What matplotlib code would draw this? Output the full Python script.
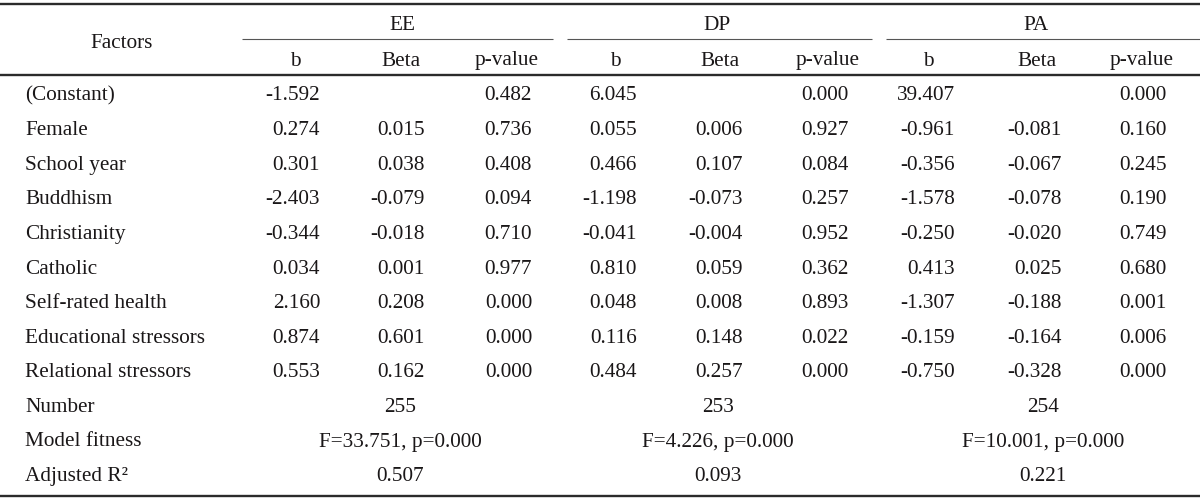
import matplotlib
matplotlib.use("Agg")
import matplotlib.pyplot as plt

groups = ["EE", "DP", "PA"]
subheads = ["b", "Beta", "p-value"]
factors = ["(Constant)", "Female", "School year", "Buddhism", "Christianity",
           "Catholic", "Self-rated health", "Educational stressors", "Relational stressors"]
ee_b = ["-1.592", "0.274", "0.301", "-2.403", "-0.344", "0.034", "2.160", "0.874", "0.553"]
ee_beta = ["", "0.015", "0.038", "-0.079", "-0.018", "0.001", "0.208", "0.601", "0.162"]
ee_p = ["0.482", "0.736", "0.408", "0.094", "0.710", "0.977", "0.000", "0.000", "0.000"]
dp_b = ["6.045", "0.055", "0.466", "-1.198", "-0.041", "0.810", "0.048", "0.116", "0.484"]
dp_beta = ["", "0.006", "0.107", "-0.073", "-0.004", "0.059", "0.008", "0.148", "0.257"]
dp_p = ["0.000", "0.927", "0.084", "0.257", "0.952", "0.362", "0.893", "0.022", "0.000"]
pa_b = ["39.407", "-0.961", "-0.356", "-1.578", "-0.250", "0.413", "-1.307", "-0.159", "-0.750"]
pa_beta = ["", "-0.081", "-0.067", "-0.078", "-0.020", "0.025", "-0.188", "-0.164", "-0.328"]
pa_p = ["0.000", "0.160", "0.245", "0.190", "0.749", "0.680", "0.001", "0.006", "0.000"]
summary_labels = ["Number", "Model fitness", "Adjusted R\u00b2"]
number = ["255", "253", "254"]
fitness = ["F=33.751, p=0.000", "F=4.226, p=0.000", "F=10.001, p=0.000"]
adj_r2 = ["0.507", "0.093", "0.221"]

# layout (pixel coordinates)
W, H = 1200, 500
FONT = "Liberation Serif"
FS = 15.3
TXT = "#1a1718"
LINE = "#2b2b2b"
BASE = 7.5  # offset from visual centre of digits to baseline
label_x = 25
factors_x, factors_y = 122, 40
group_y, sub_y = 23, 58
group_cx = [402, 717, 1036]
group_lines = [(242, 553), (567, 872), (886, 1200)]
sub_cx = [[295, 401, 507], [615, 720, 828], [928, 1037, 1142]]
val_right = [[320, 425, 532], [637, 743, 849], [955, 1062, 1167]]
summary_cx = [400, 718, 1043]
row0_y, row_h = 93, 34.6

fig = plt.figure(figsize=(12, 5), dpi=100)
ax = fig.add_axes([0, 0, 1, 1])
ax.set_xlim(0, W)
ax.set_ylim(H, 0)
ax.axis("off")

def t(x, y, s, ha="center"):
    ax.text(x, y + BASE, s, ha=ha, va="baseline", fontsize=FS, family=FONT, color=TXT)

# rules
ax.plot([0, W], [4, 4], color=LINE, lw=1.7, solid_capstyle="butt")
ax.plot([0, W], [75, 75], color=LINE, lw=1.7, solid_capstyle="butt")
ax.plot([0, W], [496, 496], color=LINE, lw=1.7, solid_capstyle="butt")
for x0, x1 in group_lines:
    ax.plot([x0, x1], [39, 39], color="#555555", lw=0.8, solid_capstyle="butt")

# header
t(factors_x, factors_y, "Factors")
for gi, g in enumerate(groups):
    t(group_cx[gi], group_y, g)
    for si, s in enumerate(subheads):
        t(sub_cx[gi][si], sub_y, s)

cols = [[ee_b, ee_beta, ee_p], [dp_b, dp_beta, dp_p], [pa_b, pa_beta, pa_p]]
for ri, f in enumerate(factors):
    y = row0_y + ri * row_h
    t(label_x, y, f, ha="left")
    for gi in range(3):
        for si in range(3):
            v = cols[gi][si][ri]
            if v:
                t(val_right[gi][si], y, v, ha="right")

summ = [number, fitness, adj_r2]
for k, lab in enumerate(summary_labels):
    y = row0_y + (len(factors) + k) * row_h
    t(label_x, y, lab, ha="left")
    for gi in range(3):
        t(summary_cx[gi], y, summ[k][gi])

fig.savefig("out.png", dpi=100, facecolor="white")
